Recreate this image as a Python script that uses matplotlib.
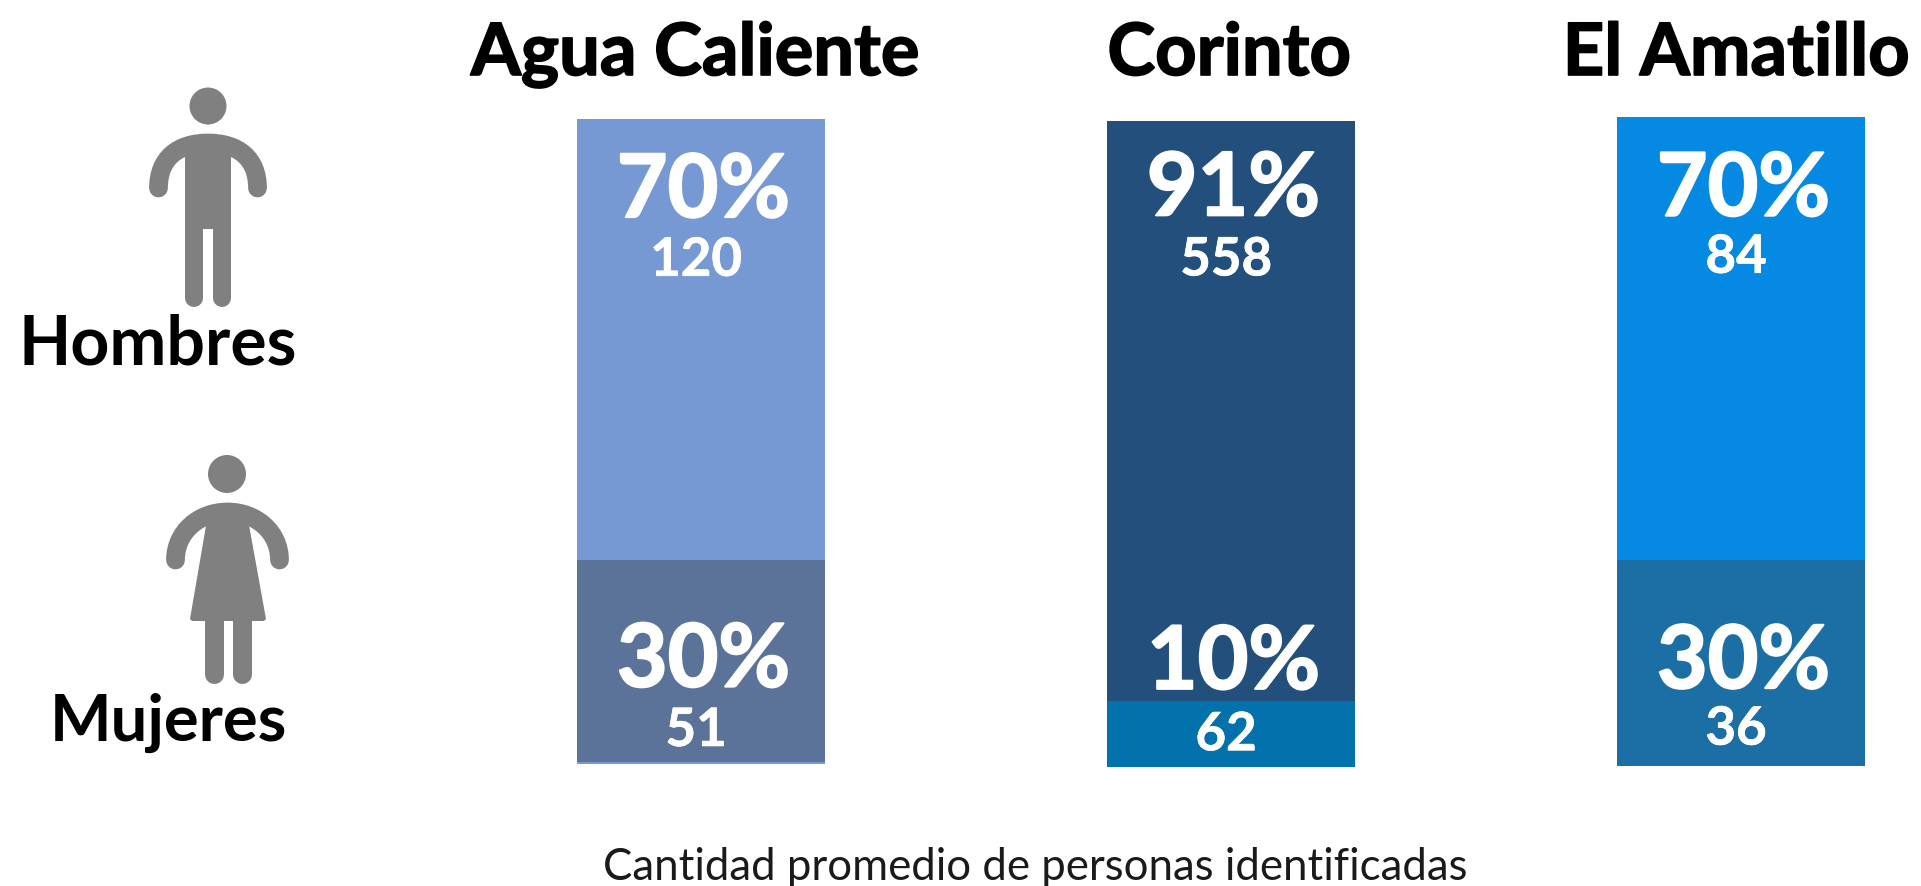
import matplotlib
matplotlib.use('Agg')
import matplotlib.pyplot as plt
import matplotlib.patheffects as pe
from matplotlib.path import Path
from matplotlib.patches import PathPatch, Circle, Polygon

plt.rcParams['font.family'] = ['Lato', 'DejaVu Sans']

W, H = 1921, 887

# datos
lugares = ['Agua Caliente', 'Corinto', 'El Amatillo']
pct_hombres = ['70%', '91%', '70%']
pct_mujeres = ['30%', '10%', '30%']
n_hombres = ['120', '558', '84']
n_mujeres = ['51', '62', '36']
alto_mujeres = [31.6, 10.2, 31.7]  # altura dibujada del tramo inferior
base_mujeres = [0.3, 0, 0]
total = [100, 100, 100]

col_hombres = ['#7799D3', '#234F7C', '#0589E2']
col_mujeres = ['#5B7399', '#0271AC', '#1C6FA5']

# caja de cada barra en pixeles: izq, der, arriba, abajo
cajas = [(577, 825, 120, 765), (1107, 1355, 122, 768), (1617, 1865, 118, 767)]
centro_titulo = [695, 1229, 1736]
# alturas de los textos dentro de cada barra (escala 0-100)
y_pct_h = [84.8, 85.4, 84.8]
y_n_h = [75.7, 76.1, 76.0]
y_pct_m = [12.0, 12.1, 12.0]
y_n_m = [2.8, 2.6, 3.3]

grueso = [pe.withStroke(linewidth=1.5, foreground='white')]
grueso_n = [pe.withStroke(linewidth=0.5, foreground='white')]
negro = [pe.withStroke(linewidth=1.2, foreground='black')]

fig = plt.figure(figsize=(W / 100, H / 100), dpi=100)
fondo = fig.add_axes([0, 0, 1, 1])
fondo.set_xlim(0, W)
fondo.set_ylim(H, 0)
fondo.axis('off')

for i, lugar in enumerate(lugares):
    x0, x1, y0, y1 = cajas[i]
    ax = fig.add_axes([x0 / W, 1 - y1 / H, (x1 - x0) / W, (y1 - y0) / H])
    ax.bar(0, total[i], width=1, color=col_hombres[i])
    ax.bar(0, alto_mujeres[i] - base_mujeres[i], width=1, bottom=base_mujeres[i], color=col_mujeres[i])
    ax.set_xlim(-0.5, 0.5)
    ax.set_ylim(0, 100)
    ax.axis('off')
    ax.text(0.01, y_pct_h[i], pct_hombres[i], color='white', fontsize=63, fontweight='bold', ha='center', va='baseline', path_effects=grueso)
    ax.text(-0.02, y_n_h[i], n_hombres[i], color='white', fontsize=38, fontweight='bold', ha='center', va='baseline', path_effects=grueso_n)
    ax.text(0.01, y_pct_m[i], pct_mujeres[i], color='white', fontsize=63, fontweight='bold', ha='center', va='baseline', path_effects=grueso)
    ax.text(-0.02, y_n_m[i], n_mujeres[i], color='white', fontsize=38, fontweight='bold', ha='center', va='baseline', path_effects=grueso_n)
    fondo.text(centro_titulo[i], 76, lugar, fontsize=52, fontweight='bold', ha='center', va='baseline', color='black', path_effects=negro)

fondo.text(158, 365, 'Hombres', fontsize=49, fontweight='bold', ha='center', va='baseline', color='black')
fondo.text(168, 741, 'Mujeres', fontsize=47, fontweight='bold', ha='center', va='baseline', color='black')
fondo.text(1035, 880, 'Cantidad promedio de personas identificadas', fontsize=31.5, ha='center', va='baseline', color='#1a1a1a')

gris = '#808080'


def brazos(xa, xb, ytop, ymano, k_c, alto_c):
    # arco grueso de mano a mano
    xm = (xa + xb) / 2
    k = (xb - xa) / 2
    verts = [(xa, ymano), (xa, ymano - alto_c), (xm - k * k_c, ytop), (xm, ytop),
             (xm + k * k_c, ytop), (xb, ymano - alto_c), (xb, ymano)]
    codes = [Path.MOVETO, Path.CURVE4, Path.CURVE4, Path.CURVE4, Path.CURVE4, Path.CURVE4, Path.CURVE4]
    fondo.add_patch(PathPatch(Path(verts, codes), fc='none', ec=gris, lw=13.5, capstyle='round'))


def pierna(x, y0, y1, ancho):
    fondo.plot([x, x], [y0, y1], color=gris, lw=ancho * 0.72, solid_capstyle='round')


# hombre
fondo.add_patch(Circle((208, 107), 18.5, fc=gris, ec='none'))
brazos(158.5, 257.5, 144, 189, 0.6, 30)
fondo.add_patch(Polygon([(185, 145), (231, 145), (231, 230), (185, 230)], fc=gris, ec='none'))
pierna(194, 225, 299, 18)
pierna(222, 225, 299, 18)

# mujer
fondo.add_patch(Circle((227, 475), 19, fc=gris, ec='none'))
brazos(175.5, 279.5, 513, 561, 0.55, 28)
fondo.add_patch(Polygon([(208, 515), (247, 515), (266, 620), (264, 622), (192, 622), (190, 620)], fc=gris, ec='none'))
pierna(213.5, 615, 675, 19)
pierna(241.5, 615, 675, 19)

fig.savefig('out.png', dpi=100)
